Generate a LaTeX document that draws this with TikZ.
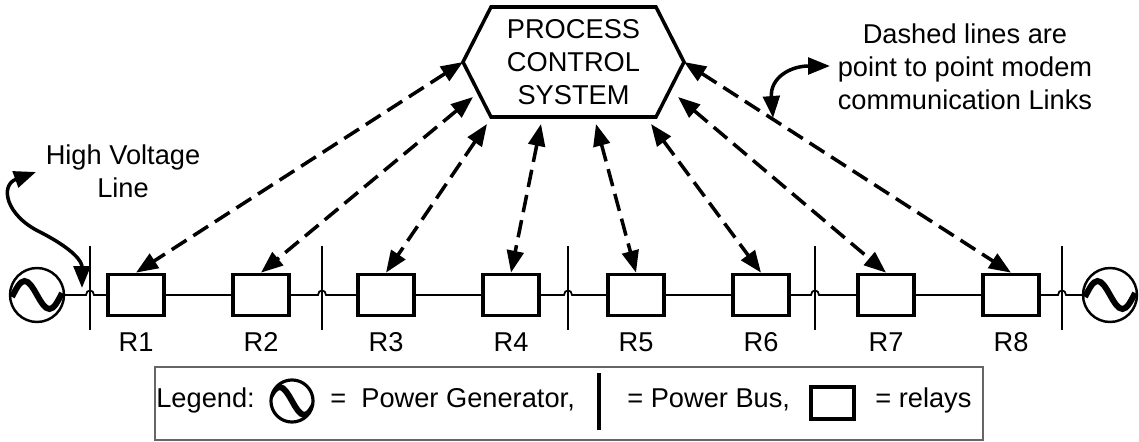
\documentclass[tikz,border=0pt]{standalone}
\usepackage{fontspec}
\setmainfont{Liberation Sans}
\usetikzlibrary{arrows.meta,calc}

\tikzset{
	txt/.style={font=\fontsize{15.5}{18.8}\selectfont, align=center, inner sep=0pt},
	relay/.style={draw, line width=2.1pt, minimum width=1.12cm, minimum height=0.82cm, inner sep=0pt},
	gen/.style={circle, draw, line width=1.4pt, minimum size=#1*1.08cm, inner sep=0pt,
		path picture={\draw[line width=3.4pt, shift={(path picture bounding box.center)}, scale=#1]
			(-0.5cm,-0.04cm) sin (-0.25cm,0.28cm) cos (0,0) sin (0.25cm,-0.28cm) cos (0.5cm,0.04cm);}},
	gen/.default=1,
	wire/.style={line width=1pt},
	bus/.style={line width=1.5pt},
	link/.style={line width=2pt, dash pattern=on 10pt off 4.6pt,
		{Triangle[length=12.5pt,width=9.5pt]}-{Triangle[length=12.5pt,width=9.5pt]}},
	note/.style={line width=2pt, {Triangle[length=12.5pt,width=9.5pt]}-{Triangle[length=12.5pt,width=9.5pt]}}
}

\begin{document}
\begin{tikzpicture}[x=0.02cm,y=-0.02cm]
	\useasboundingbox (0,0) rectangle (1139,442);

	\draw[line width=2pt] (463,62) -- (491,7) -- (656,7) -- (684,62) -- (656,117) -- (491,117) -- cycle;
	\node[txt]			(pcs) at (573.5,62)	{PROCESS\\CONTROL\\SYSTEM};

	\node[gen]			(g1) at (37,295)	{};
	\node[gen]			(g2) at (1110,295)	{};
	\node[relay]		(r1) at (136,295)	{};
	\node[relay]		(r2) at (261,295)	{};
	\node[relay]		(r3) at (386,295)	{};
	\node[relay]		(r4) at (511,295)	{};
	\node[relay]		(r5) at (636,295)	{};
	\node[relay]		(r6) at (761,295)	{};
	\node[relay]		(r7) at (886,295)	{};
	\node[relay]		(r8) at (1011,295)	{};

	\node[txt]			(t1) at (136,342)	{R1};
	\node[txt]			(t2) at (261,342)	{R2};
	\node[txt]			(t3) at (386,342)	{R3};
	\node[txt]			(t4) at (511,342)	{R4};
	\node[txt]			(t5) at (636,342)	{R5};
	\node[txt]			(t6) at (761,342)	{R6};
	\node[txt]			(t7) at (886,342)	{R7};
	\node[txt]			(t8) at (1011,342)	{R8};

	\draw[bus]	(90,246) -- (90,330);
	\draw[bus]	(322,246) -- (322,330);
	\draw[bus]	(568,246) -- (568,330);
	\draw[bus]	(815,246) -- (815,330);
	\draw[bus]	(1062,246) -- (1062,330);

	\draw[wire]	(g1.east) -- (86,295) .. controls (86,289) and (94,289) .. (94,295) -- (r1.west);
	\draw[wire]	(r1.east) -- (r2.west);
	\draw[wire]	(r2.east) -- (318,295) .. controls (318,289) and (326,289) .. (326,295) -- (r3.west);
	\draw[wire]	(r3.east) -- (r4.west);
	\draw[wire]	(r4.east) -- (564,295) .. controls (564,289) and (572,289) .. (572,295) -- (r5.west);
	\draw[wire]	(r5.east) -- (r6.west);
	\draw[wire]	(r6.east) -- (811,295) .. controls (811,289) and (819,289) .. (819,295) -- (r7.west);
	\draw[wire]	(r7.east) -- (r8.west);
	\draw[wire]	(r8.east) -- (1058,295) .. controls (1058,289) and (1066,289) .. (1066,295) -- (g2.west);

	\coordinate	(h1) at (463,62);
	\coordinate	(h2) at (473,97);
	\coordinate	(h3) at (487,124);
	\coordinate	(h4) at (541,124);
	\coordinate	(h5) at (596,124);
	\coordinate	(h6) at (651,124);
	\coordinate	(h7) at (678,97);
	\coordinate	(h8) at (684,62);

	\draw[link]	(h1) -- (r1.north);
	\draw[link]	(h2) -- (r2.north);
	\draw[link]	(h3) -- (r3.north);
	\draw[link]	(h4) -- (r4.north);
	\draw[link]	(h5) -- (r5.north);
	\draw[link]	(h6) -- (r6.north);
	\draw[link]	(h7) -- (r7.north);
	\draw[link]	(h8) -- (r8.north);

	\node[txt]			(hv) at (123,171.5)	{High Voltage\\Line};
	\coordinate	(hv1) at (36,172);
	\coordinate	(hv2) at (82,288);
	\draw[note]	(hv1) .. controls (0,185) and (5,215) .. (40,232) .. controls (75,250) and (82,262) .. (hv2);

	\node[txt]			(dl) at (965,67)	{Dashed lines are\\point to point modem\\communication Links};
	\coordinate	(dl1) at (773,118);
	\coordinate	(dl2) at (830,66);
	\draw[note]	(dl1) .. controls (770,78) and (790,66) .. (dl2);

	\node[draw=gray!80!black, line width=0.8pt, minimum width=16.56cm, minimum height=1.46cm, inner sep=0pt]
						(legend) at (569,403.5)	{};
	\node[txt, anchor=base west]	(lg) at (156,407)	{Legend:};
	\node[gen=0.78, line width=1.8pt]	(lg1) at (292,401)	{};
	\node[txt, anchor=base west]	(lt1) at (330,407)	{=~~Power Generator,};
	\draw[line width=2pt]	(599,373) -- (599,430);
	\node[txt, anchor=base west]	(lt2) at (627,407)	{= Power Bus,};
	\node[relay, minimum width=0.86cm, minimum height=0.64cm]	(lr) at (832.5,403)	{};
	\node[txt, anchor=base west]	(lt3) at (875,407)	{= relays};
\end{tikzpicture}
\end{document}
